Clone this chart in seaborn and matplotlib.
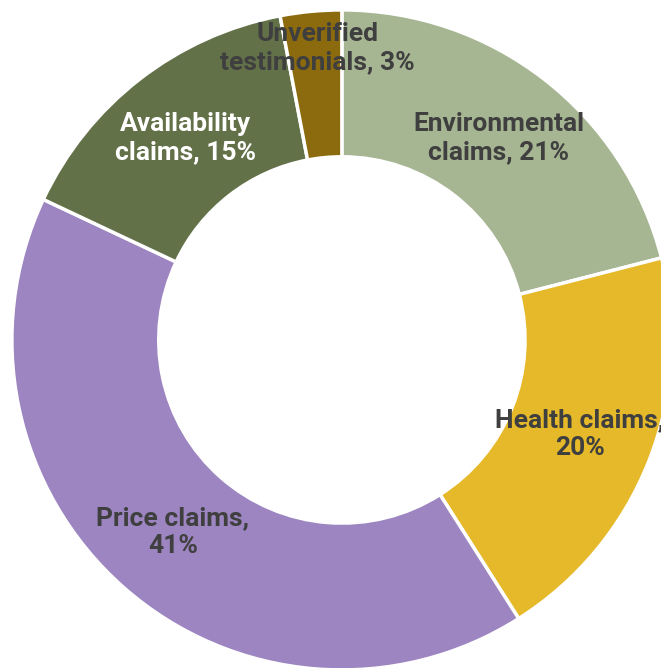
import matplotlib
matplotlib.use("Agg")
import matplotlib.pyplot as plt
import seaborn as sns

categories = ["Environmental\nclaims, 21%", "Health claims,\n20%", "Price claims,\n41%",
              "Availability\nclaims, 15%", "Unverified\ntestimonials, 3%"]
values = [21, 20, 41, 15, 3]
colors = ["#A6B592", "#E5B929", "#9C85C0", "#637149", "#8C6B0E"]
label_colors = ["#3F3F3F", "#3F3F3F", "#3F3F3F", "#FFFFFF", "#3F3F3F"]

sns.set_theme(style="white")
plt.rcParams['font.family'] = ['Roboto', 'DejaVu Sans']

fig = plt.figure(figsize=(6.61, 6.68), dpi=100)
ax = fig.add_axes([0, 0, 1, 1])
wedges, texts = ax.pie(values, labels=categories, colors=sns.color_palette(colors),
                       startangle=90, counterclock=False, radius=1.0,
                       labeldistance=0.775,
                       wedgeprops=dict(width=0.445, edgecolor="white", linewidth=2.5),
                       textprops=dict(fontsize=19, fontweight="bold", color="#3F3F3F",
                                      linespacing=1.2))
for t, c in zip(texts, label_colors):
    t.set_ha("center")
    t.set_va("center")
    t.set_multialignment("center")
    t.set_color(c)
# push small slice label outward slightly
x, y = texts[4].get_position()
texts[4].set_position((x * 1.14 + 0.01, y * 1.14 + 0.005))
ax.set_xlim(-1.036, 0.967)
ax.set_ylim(-0.994, 1.030)
ax.set_aspect("equal")
ax.axis("off")
fig.savefig("out.png", dpi=100)
